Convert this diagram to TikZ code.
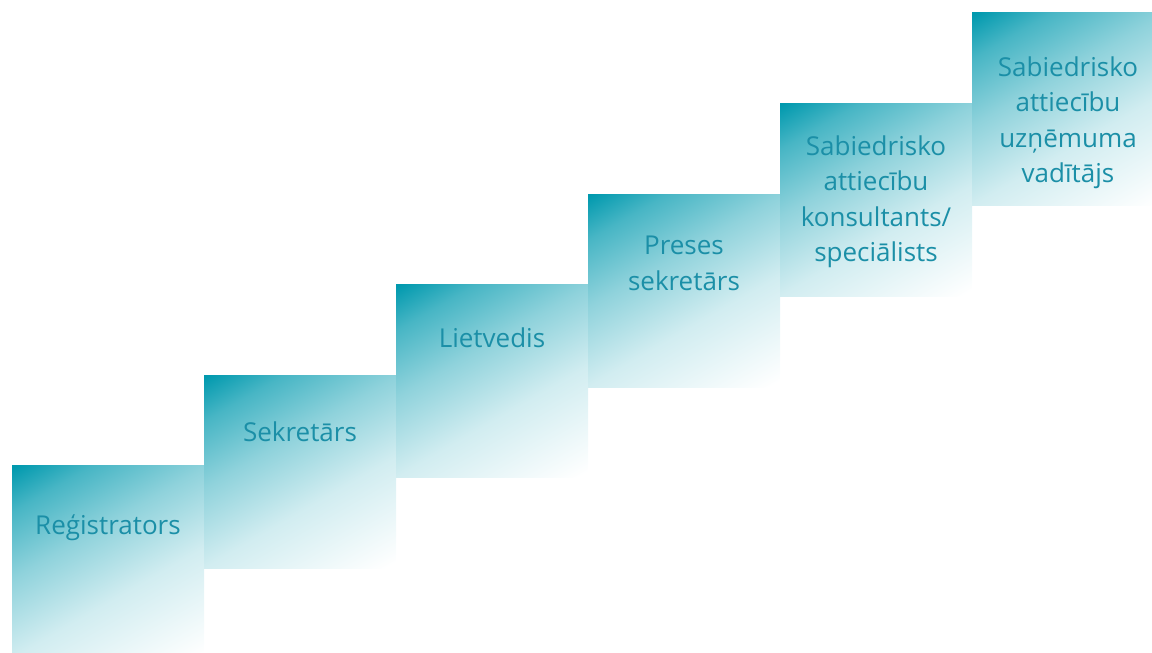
\documentclass[tikz,border=0pt]{standalone}
\usepackage{fontspec}
\setmainfont{Open Sans}
\usepackage{tikz}
\usetikzlibrary{positioning}

\definecolor{stairteal}{HTML}{0099AE}
\definecolor{stairink}{HTML}{1B8FA7}

% diagonal fade from teal (top left) to white (bottom right)
\pgfdeclareverticalshading{stairshade}{100bp}{color(0bp)=(white); color(17bp)=(white); color(41bp)=(stairteal!18!white); color(59bp)=(stairteal!44!white); color(74bp)=(stairteal!72!white); color(84bp)=(stairteal); color(100bp)=(stairteal)}

\begin{document}
\begin{tikzpicture}[
		stairbox/.style  = {rectangle, inner sep=0pt, outer sep=0pt, minimum width=192pt, minimum height=193pt, shade, shading=stairshade, shading angle=30},
		stairtext/.style = {align=center, inner sep=0pt, text=stairink, font=\fontsize{26}{35.5}\selectfont}]

		\useasboundingbox (0,0) rectangle (1152pt,653pt);
		\clip (0,0) rectangle (1152pt,653pt);

		% the first step, the others climb from it
		\node[stairbox, anchor=north west] (s1) at (12pt,187pt) {};
		\foreach \i [evaluate=\i as \j using int(\i-1)] in {2,...,6}
		\node[stairbox, right=0pt of s\j, yshift=90.6pt] (s\i) {};

		% the labels on the steps
		\node[stairtext] (t1) at ([yshift=-62pt]s1.north) {Reģistrators};
		\node[stairtext] (t2) at ([yshift=-56pt]s2.north) {Sekretārs};
		\node[stairtext] (t3) at ([yshift=-53pt]s3.north) {Lietvedis};
		\node[stairtext] (t4) at ([yshift=-69pt]s4.north) {Preses\\sekretārs};
		\node[stairtext] (t5) at ([yshift=-98pt]s5.north) {Sabiedrisko\\attiecību\\konsultants/\\speciālists};
		\node[stairtext] (t6) at ([yshift=-110pt]s6.north) {Sabiedrisko\\attiecību\\uzņēmuma\\vadītājs};

	\end{tikzpicture}
\end{document}
